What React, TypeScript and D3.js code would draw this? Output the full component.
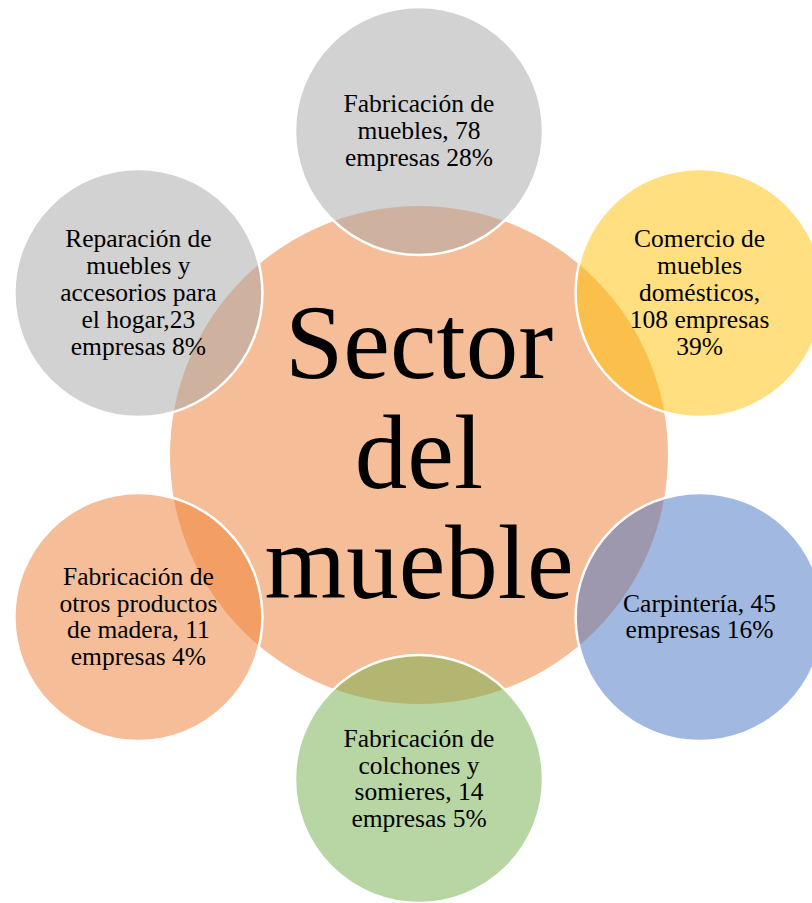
import { useEffect, useRef } from "react";
import * as d3 from "d3";

// centre node
const centerLines = ["Sector", "del", "mueble"];
const centerColor = "#ED7D31";

// outer nodes, clockwise from the top
const sectors = [
  "Fabricación de muebles",
  "Comercio de muebles domésticos",
  "Carpintería",
  "Fabricación de colchones y somieres",
  "Fabricación de otros productos de madera",
  "Reparación de muebles y accesorios para el hogar",
];
const companies = [78, 108, 45, 14, 11, 23];
const shares = [28, 39, 16, 5, 4, 8];
const labelLines = [
  ["Fabricación de", "muebles, 78", "empresas 28%"],
  ["Comercio de", "muebles", "domésticos,", "108 empresas", "39%"],
  ["Carpintería, 45", "empresas 16%"],
  ["Fabricación de", "colchones y", "somieres, 14", "empresas 5%"],
  ["Fabricación de", "otros productos", "de madera, 11", "empresas 4%"],
  ["Reparación de", "muebles y", "accesorios para", "el hogar,23", "empresas 8%"],
];
const sectorColors = ["#A5A5A5", "#FFC000", "#4472C4", "#70AD47", "#ED7D31", "#A5A5A5"];

export default function App() {
  const svgRef = useRef<SVGSVGElement | null>(null);

  useEffect(() => {
    const svg = d3.select(svgRef.current);
    svg.selectAll("*").remove();

    const width = 812;
    const height = 903;
    const cx = 419;
    const cy = 455;
    const centerR = 249;
    const outerR = 124;
    const ringR = 324;
    const font = "'Liberation Serif', 'Times New Roman', serif";

    const angle = d3
      .scaleLinear()
      .domain([0, sectors.length])
      .range([0, 2 * Math.PI]);

    const nodes = sectors.map((name, i) => {
      const [x, y] = d3.pointRadial(angle(i), ringR);
      return {
        name,
        count: companies[i],
        share: shares[i],
        lines: labelLines[i],
        color: sectorColors[i],
        x: cx + x,
        y: cy + y,
      };
    });

    svg.attr("width", width).attr("height", height);
    const g = svg.append("g");

    g.append("circle")
      .attr("cx", cx)
      .attr("cy", cy)
      .attr("r", centerR)
      .attr("fill", centerColor)
      .attr("fill-opacity", 0.5);

    g.selectAll("circle.node")
      .data(nodes)
      .join("circle")
      .attr("class", "node")
      .attr("cx", (d) => d.x)
      .attr("cy", (d) => d.y)
      .attr("r", outerR)
      .attr("fill", (d) => d.color)
      .attr("fill-opacity", 0.5)
      .attr("stroke", "#ffffff")
      .attr("stroke-width", 2.5);

    // centre title
    const centerLine = 110;
    g.append("text")
      .attr("text-anchor", "middle")
      .attr("font-family", font)
      .attr("font-size", 105)
      .attr("fill", "#000")
      .selectAll("tspan")
      .data(centerLines)
      .join("tspan")
      .attr("x", cx)
      .attr("y", (_, i) => cy + 33 + (i - (centerLines.length - 1) / 2) * centerLine)
      .text((d) => d);

    // outer labels
    const lineH = 26.8;
    const labels = g
      .selectAll("text.label")
      .data(nodes)
      .join("text")
      .attr("class", "label")
      .attr("text-anchor", "middle")
      .attr("font-family", font)
      .attr("font-size", 25.5)
      .attr("fill", "#000");

    labels
      .selectAll("tspan")
      .data((d) => d.lines.map((line, i) => ({ line, i, n: d.lines.length, x: d.x, y: d.y })))
      .join("tspan")
      .attr("x", (d) => d.x)
      .attr("y", (d) => d.y + 8 + (d.i - (d.n - 1) / 2) * lineH)
      .text((d) => d.line);
  }, []);

  return (
    <div style={{ position: "absolute", left: 0, top: 0, width: 812, height: 903, overflow: "hidden", background: "#fff" }}>
      <svg ref={svgRef} role="img" aria-label="Sector del mueble" style={{ display: "block" }} />
    </div>
  );
}
